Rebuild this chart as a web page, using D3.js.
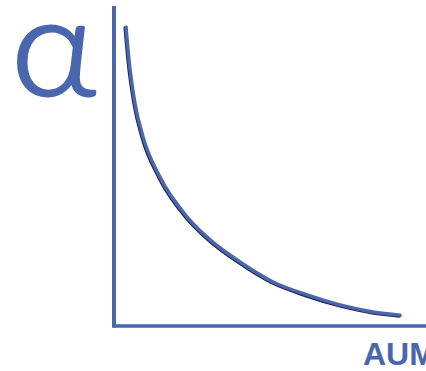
<!DOCTYPE html>
<html>
<head>
<meta charset="utf-8">
<script src="https://cdn.jsdelivr.net/npm/d3@7"></script>
<style>
  html, body { margin: 0; padding: 0; background: #fff; }
  svg { display: block; }
</style>
</head>
<body>
<div id="chart"></div>
<script>
// alpha vs AUM sketch

// data (arbitrary units, 0-100)
var aum   = [3.85, 4.8, 6.7, 9.3, 14.7, 23.4, 30.8, 40.4, 51.0, 61.9, 72.4, 83.0, 91.7];
var alpha = [93.4, 83.1, 69.7, 59.1, 46.6, 34.1, 26.9, 20.0, 13.75, 9.7, 6.6, 4.4, 3.4];
var yLabel = "α";
var xLabel = "AUM";

var svgWidth = 426;
var svgHeight = 371;
var blue = "#4a66ad";

var svg = d3.select("#chart")
    .append("svg")
    .attr("width", svgWidth)
    .attr("height", svgHeight);

var xScale = d3.scaleLinear().domain([0, 100]).range([114, 426]);
var yScale = d3.scaleLinear().domain([0, 100]).range([326, 6]);

// axes as plain lines
svg.append("line")
    .attr("x1", xScale(0)).attr("x2", xScale(0))
    .attr("y1", yScale(100)).attr("y2", yScale(0) + 1.5)
    .attr("stroke", blue)
    .attr("stroke-width", 4);

svg.append("line")
    .attr("x1", xScale(0) - 1.5).attr("x2", xScale(100))
    .attr("y1", yScale(0)).attr("y2", yScale(0))
    .attr("stroke", blue)
    .attr("stroke-width", 3.5);

var pts = aum.map((d, i) => [d, alpha[i]]);

var line = d3.line()
    .x(d => xScale(d[0]))
    .y(d => yScale(d[1]))
    .curve(d3.curveMonotoneX);

// thin dark shadow under the curve
svg.append("path")
    .attr("d", line(pts))
    .attr("transform", "translate(-0.8,0.8)")
    .attr("fill", "none")
    .attr("stroke", "#1c2540")
    .attr("stroke-width", 3.5)
    .attr("stroke-linecap", "round");

svg.append("path")
    .attr("d", line(pts))
    .attr("fill", "none")
    .attr("stroke", blue)
    .attr("stroke-width", 3.5)
    .attr("stroke-linecap", "round");

// labels
svg.append("text")
    .attr("transform", "translate(11,95) scale(1.08,1)")
    .attr("font-family", "Lato")
    .attr("font-weight", 300)
    .attr("font-size", "136px")
    .attr("fill", blue)
    .attr("stroke", blue)
    .attr("stroke-width", 3)
    .attr("stroke-linejoin", "round")
    .text(yLabel);

svg.append("text")
    .attr("x", 363)
    .attr("y", 365)
    .attr("font-family", "Liberation Sans, Arial, sans-serif")
    .attr("font-weight", "bold")
    .attr("font-size", "32px")
    .attr("fill", blue)
    .text(xLabel);
</script>
</body>
</html>
